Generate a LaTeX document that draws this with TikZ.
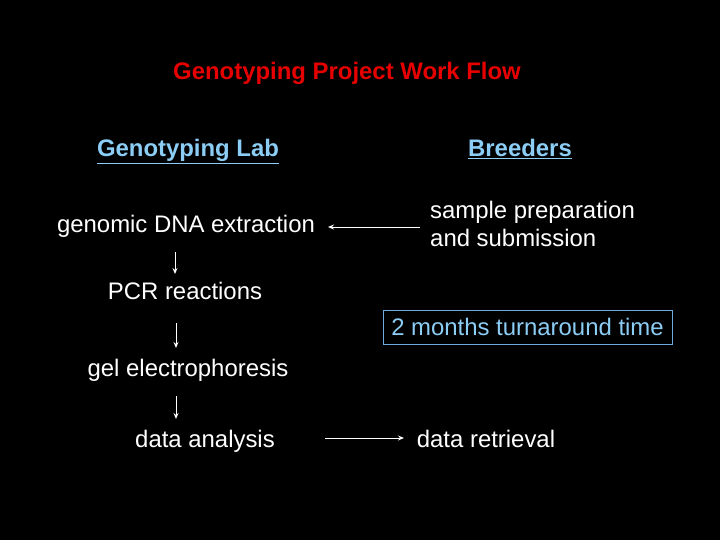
\documentclass[tikz,border=0pt]{standalone}
\usepackage{fontspec}
\setmainfont{Liberation Sans}
\usetikzlibrary{arrows.meta}
\definecolor{titlered}{RGB}{230,0,0}
\definecolor{headblue}{RGB}{140,205,245}
\definecolor{boxblue}{RGB}{110,170,220}
\tikzset{
  txt/.style={text=white,font=\fontsize{24}{28}\selectfont,inner sep=0pt,anchor=base},
  head/.style={text=headblue,font=\bfseries\fontsize{24}{28}\selectfont,inner sep=0pt,anchor=base},
  flow/.style={white,line width=1pt,-{Stealth[length=6pt,width=5pt]}}
}
\begin{document}
\begin{tikzpicture}[x=1bp,y=-1bp]
\fill[black] (0,0) rectangle (720,540);
\useasboundingbox (0,0) rectangle (720,540);
\node[text=titlered,font=\bfseries\fontsize{24}{28}\selectfont,inner sep=0pt,anchor=base] (title) at (347,80) {Genotyping Project Work Flow};
\node[head] (lab) at (188,157) {\underline{Genotyping Lab}};
\node[head] (breed) at (520,157) {\underline{Breeders}};
\node[txt] (dna) at (186,233) {genomic DNA extraction};
\node[txt,anchor=base west,align=left,font=\fontsize{24}{29}\selectfont] (sample) at (430,247) {sample preparation\\and submission};
\node[txt] (pcr) at (185,299) {PCR reactions};
\node[draw=boxblue,line width=0.8pt,text=headblue,font=\fontsize{24}{28}\selectfont,minimum width=289bp,minimum height=34bp,inner sep=0pt] (turn) at (527.5,327) {2 months turnaround time};
\node[txt] (gel) at (188,376) {gel electrophoresis};
\node[txt] (ana) at (205,447) {data analysis};
\node[txt] (ret) at (486,447) {data retrieval};
\coordinate (a1s) at (420,227);
\coordinate (a1e) at (328,227);
\draw[flow] (a1s) -- (a1e);
\coordinate (d1s) at (175,252);
\coordinate (d1e) at (175,274);
\draw[flow] (d1s) -- (d1e);
\coordinate (d2s) at (176,323);
\coordinate (d2e) at (176,348);
\draw[flow] (d2s) -- (d2e);
\coordinate (d3s) at (176,396);
\coordinate (d3e) at (176,419);
\draw[flow] (d3s) -- (d3e);
\coordinate (a2s) at (325,438);
\coordinate (a2e) at (404,438);
\draw[flow] (a2s) -- (a2e);
\end{tikzpicture}
\end{document}
